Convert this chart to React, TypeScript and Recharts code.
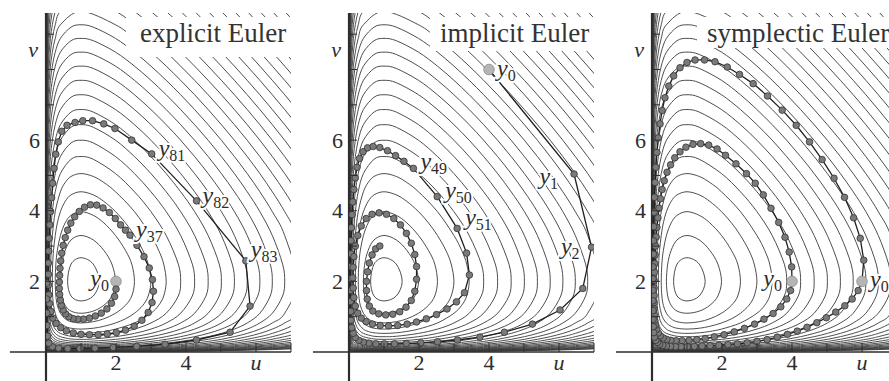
import React from 'react';
import { LineChart, Line, XAxis, YAxis, ReferenceLine, LabelList } from 'recharts';

// level curves of the invariant as [u, v]
const contours: number[][][] = [
  [[1.52,2],[1.35,2.49],[1,2.67],[0.716,2.49],[0.617,2],[0.716,1.585],[1,1.446],[1.35,1.585]],
  [[1.986,2],[1.882,2.49],[1.652,2.878],[1.35,3.174],[1,3.3],[0.716,3.174],[0.548,2.878],[0.449,2.49],[0.412,2],[0.449,1.585],[0.548,1.322],[0.716,1.158],[1,1.097],[1.35,1.158],[1.652,1.322],[1.882,1.585]],
  [[2.527,2],[2.45,2.49],[2.27,2.878],[1.986,3.3],[1.652,3.657],[1.35,3.87],[1,3.975],[0.716,3.87],[0.548,3.657],[0.412,3.3],[0.3245,2.878],[0.282,2.49],[0.264,2],[0.282,1.585],[0.3245,1.322],[0.412,1.097],[0.548,0.94],[0.716,0.858],[1,0.822],[1.35,0.858],[1.652,0.94],[1.986,1.097],[2.27,1.322],[2.45,1.585]],
  [[2.998,2],[2.92,2.49],[2.768,2.878],[2.527,3.3],[2.27,3.657],[1.986,3.975],[1.652,4.265],[1.35,4.45],[1,4.538],[0.716,4.45],[0.548,4.265],[0.412,3.975],[0.3245,3.657],[0.264,3.3],[0.2155,2.878],[0.19,2.49],[0.181,2],[0.19,1.585],[0.2155,1.322],[0.264,1.097],[0.3245,0.94],[0.412,0.822],[0.548,0.727],[0.716,0.673],[1,0.649],[1.35,0.673],[1.652,0.727],[1.986,0.822],[2.27,0.94],[2.527,1.097],[2.768,1.322],[2.92,1.585]],
  [[3.434,2],[3.363,2.49],[3.219,2.878],[2.998,3.3],[2.527,3.975],[1.986,4.538],[1.652,4.8],[1.35,4.972],[1,5.053],[0.716,4.972],[0.548,4.8],[0.412,4.538],[0.264,3.975],[0.181,3.3],[0.1495,2.878],[0.133,2.49],[0.126,2],[0.133,1.585],[0.1495,1.322],[0.181,1.097],[0.264,0.822],[0.412,0.649],[0.548,0.582],[0.716,0.543],[1,0.527],[1.35,0.543],[1.652,0.582],[1.986,0.649],[2.527,0.822],[2.998,1.097],[3.219,1.322],[3.363,1.585]],
  [[3.847,2],[3.78,2.49],[3.434,3.3],[2.998,3.975],[2.527,4.538],[1.986,5.053],[1.35,5.458],[1,5.535],[0.716,5.458],[0.412,5.053],[0.264,4.538],[0.181,3.975],[0.126,3.3],[0.095,2.49],[0.09,2],[0.095,1.585],[0.126,1.097],[0.181,0.822],[0.264,0.649],[0.412,0.527],[0.716,0.445],[1,0.434],[1.35,0.445],[1.986,0.527],[2.527,0.649],[2.998,0.822],[3.434,1.097],[3.78,1.585]],
  [[4.246,2],[4.18,2.49],[3.847,3.3],[3.434,3.975],[2.998,4.538],[2.527,5.053],[1.986,5.535],[1.35,5.92],[1,5.997],[0.716,5.92],[0.412,5.535],[0.264,5.053],[0.181,4.538],[0.126,3.975],[0.09,3.3],[0.068,2.49],[0.0655,2],[0.068,1.585],[0.09,1.097],[0.126,0.822],[0.181,0.649],[0.264,0.527],[0.412,0.434],[0.716,0.369],[1,0.358],[1.35,0.369],[1.986,0.434],[2.527,0.527],[2.998,0.649],[3.434,0.822],[3.847,1.097],[4.18,1.585]],
  [[4.633,2],[4.57,2.49],[4.246,3.3],[3.847,3.975],[3.434,4.538],[2.998,5.053],[2.527,5.535],[1.986,5.997],[1.35,6.365],[1,6.438],[0.716,6.365],[0.412,5.997],[0.264,5.535],[0.181,5.053],[0.126,4.538],[0.09,3.975],[0.0655,3.3],[0.0475,2],[0.0655,1.097],[0.09,0.822],[0.126,0.649],[0.181,0.527],[0.264,0.434],[0.412,0.358],[0.716,0.308],[1,0.2985],[1.35,0.308],[1.986,0.358],[2.527,0.434],[2.998,0.527],[3.434,0.649],[3.847,0.822],[4.246,1.097],[4.57,1.585]],
  [[5.011,2],[4.949,2.49],[4.633,3.3],[4.246,3.975],[3.847,4.538],[3.434,5.053],[2.998,5.535],[2.527,5.997],[1.986,6.438],[1.35,6.795],[1,6.866],[0.716,6.795],[0.412,6.438],[0.264,5.997],[0.181,5.535],[0.126,5.053],[0.09,4.538],[0.0655,3.975],[0.0475,3.3],[0.035,2],[0.0475,1.097],[0.0655,0.822],[0.09,0.649],[0.126,0.527],[0.181,0.434],[0.264,0.358],[0.412,0.2985],[0.716,0.259],[1,0.251],[1.35,0.259],[1.986,0.2985],[2.527,0.358],[2.998,0.434],[3.434,0.527],[3.847,0.649],[4.246,0.822],[4.633,1.097],[4.949,1.585]],
  [[5.383,2],[5.321,2.49],[5.011,3.3],[4.633,3.975],[4.246,4.538],[3.847,5.053],[3.434,5.535],[2.998,5.997],[2.527,6.438],[1.986,6.866],[1.35,7.215],[1,7.285],[0.716,7.215],[0.412,6.866],[0.264,6.438],[0.181,5.997],[0.126,5.535],[0.09,5.053],[0.0655,4.538],[0.0475,3.975],[0.035,3.3],[0.026,2],[0.035,1.097],[0.0475,0.822],[0.0655,0.649],[0.09,0.527],[0.126,0.434],[0.181,0.358],[0.264,0.2985],[0.412,0.251],[0.716,0.218],[1,0.212],[1.35,0.218],[1.986,0.251],[2.527,0.2985],[2.998,0.358],[3.434,0.434],[3.847,0.527],[4.246,0.649],[4.633,0.822],[5.011,1.097],[5.321,1.585]],
  [[5.749,2],[5.688,2.49],[5.383,3.3],[5.011,3.975],[4.633,4.538],[4.246,5.053],[3.847,5.535],[3.434,5.997],[2.998,6.438],[2.527,6.866],[1.986,7.285],[1.35,7.627],[1,7.694],[0.716,7.627],[0.412,7.285],[0.264,6.866],[0.181,6.438],[0.126,5.997],[0.09,5.535],[0.0655,5.053],[0.0475,4.538],[0.035,3.975],[0.026,3.3],[0.0187,2],[0.026,1.097],[0.035,0.822],[0.0475,0.649],[0.0655,0.527],[0.09,0.434],[0.126,0.358],[0.181,0.2985],[0.264,0.251],[0.412,0.212],[0.716,0.185],[1,0.18],[1.35,0.185],[1.986,0.212],[2.527,0.251],[2.998,0.2985],[3.434,0.358],[3.847,0.434],[4.246,0.527],[4.633,0.649],[5.011,0.822],[5.383,1.097],[5.688,1.585]],
  [[6.11,2],[6.05,2.49],[5.749,3.3],[5.383,3.975],[5.011,4.538],[4.633,5.053],[4.246,5.535],[3.847,5.997],[3.434,6.438],[2.998,6.866],[2.527,7.285],[1.986,7.694],[1.35,8.03],[1,8.096],[0.716,8.03],[0.412,7.694],[0.264,7.285],[0.181,6.866],[0.126,6.438],[0.09,5.997],[0.0655,5.535],[0.0475,5.053],[0.035,4.538],[0.026,3.975],[0.0187,3.3],[0.0138,2],[0.0187,1.097],[0.026,0.822],[0.035,0.649],[0.0475,0.527],[0.0655,0.434],[0.09,0.358],[0.126,0.2985],[0.181,0.251],[0.264,0.212],[0.412,0.18],[0.716,0.157],[1,0.1525],[1.35,0.157],[1.986,0.18],[2.527,0.212],[2.998,0.251],[3.434,0.2985],[3.847,0.358],[4.246,0.434],[4.633,0.527],[5.011,0.649],[5.383,0.822],[5.749,1.097],[6.05,1.585]],
  [[6.466,2],[6.407,2.49],[6.11,3.3],[5.749,3.975],[5.383,4.538],[5.011,5.053],[4.633,5.535],[4.246,5.997],[3.847,6.438],[3.434,6.866],[2.998,7.285],[2.527,7.694],[1.986,8.096],[1.35,8.426],[1,8.492],[0.716,8.426],[0.412,8.096],[0.264,7.694],[0.181,7.285],[0.126,6.866],[0.09,6.438],[0.0655,5.997],[0.035,5.053],[0.0187,3.975],[0.0102,2],[0.0138,1.097],[0.0187,0.822],[0.026,0.649],[0.035,0.527],[0.0475,0.434],[0.0655,0.358],[0.09,0.2985],[0.126,0.251],[0.181,0.212],[0.264,0.18],[0.412,0.1525],[0.716,0.133],[1,0.13],[1.35,0.133],[1.986,0.1525],[2.527,0.18],[2.998,0.212],[3.434,0.251],[3.847,0.2985],[4.246,0.358],[4.633,0.434],[5.011,0.527],[5.383,0.649],[5.749,0.822],[6.11,1.097],[6.407,1.585]],
  [[6.82,2],[6.76,2.49],[6.466,3.3],[6.11,3.975],[5.749,4.538],[5.383,5.053],[5.011,5.535],[4.633,5.997],[4.246,6.438],[3.847,6.866],[3.434,7.285],[2.998,7.694],[2.527,8.096],[1.986,8.492],[1.35,8.816],[1,8.881],[0.716,8.816],[0.412,8.492],[0.264,8.096],[0.181,7.694],[0.126,7.285],[0.09,6.866],[0.0655,6.438],[0.035,5.535],[0.0187,4.538],[0.0102,3.3],[0.0075,2],[0.0102,1.097],[0.0138,0.822],[0.0187,0.649],[0.026,0.527],[0.035,0.434],[0.0475,0.358],[0.0655,0.2985],[0.09,0.251],[0.126,0.212],[0.181,0.18],[0.264,0.1525],[0.412,0.13],[0.716,0.1135],[1,0.111],[1.35,0.1135],[1.986,0.13],[2.527,0.1525],[2.998,0.18],[3.434,0.212],[3.847,0.251],[4.246,0.2985],[4.633,0.358],[5.011,0.434],[5.383,0.527],[5.749,0.649],[6.11,0.822],[6.466,1.097],[6.76,1.585]],
  [[7.17,2],[6.82,3.3],[6.466,3.975],[6.11,4.538],[5.749,5.053],[5.383,5.535],[5.011,5.997],[4.633,6.438],[4.246,6.866],[3.847,7.285],[3.434,7.694],[2.998,8.096],[2.527,8.492],[1.986,8.881],[1.35,9.2],[1,9.266],[0.716,9.2],[0.412,8.881],[0.264,8.492],[0.181,8.096],[0.126,7.694],[0.09,7.285],[0.0655,6.866],[0.035,5.997],[0.0187,5.053],[0.0102,3.975],[0.0055,2],[0.0075,1.097],[0.0102,0.822],[0.0187,0.527],[0.035,0.358],[0.0655,0.251],[0.09,0.212],[0.126,0.18],[0.181,0.1525],[0.264,0.13],[0.412,0.111],[0.716,0.096],[1,0.094],[1.35,0.096],[1.986,0.111],[2.527,0.13],[2.998,0.1525],[3.434,0.18],[3.847,0.212],[4.246,0.251],[4.633,0.2985],[5.011,0.358],[5.383,0.434],[5.749,0.527],[6.11,0.649],[6.466,0.822],[6.82,1.097]],
  [[7.52,2],[7.17,3.3],[6.82,3.975],[6.466,4.538],[6.11,5.053],[5.749,5.535],[5.383,5.997],[5.011,6.438],[4.633,6.866],[4.246,7.285],[3.847,7.694],[3.434,8.096],[2.998,8.492],[2.527,8.881],[1.986,9.266],[1,9.647],[0.412,9.266],[0.264,8.881],[0.181,8.492],[0.126,8.096],[0.09,7.694],[0.0655,7.285],[0.035,6.438],[0.0187,5.535],[0.0102,4.538],[0.0041,2],[0.0055,1.097],[0.0102,0.649],[0.0187,0.434],[0.035,0.2985],[0.0655,0.212],[0.126,0.1525],[0.181,0.13],[0.264,0.111],[0.412,0.094],[1,0.081],[1.986,0.094],[2.527,0.111],[2.998,0.13],[3.434,0.1525],[3.847,0.18],[4.246,0.212],[4.633,0.251],[5.011,0.2985],[5.383,0.358],[5.749,0.434],[6.11,0.527],[6.466,0.649],[6.82,0.822],[7.17,1.097]],
  [[7.86,2],[7.52,3.3],[7.17,3.975],[6.82,4.538],[6.466,5.053],[6.11,5.535],[5.749,5.997],[5.383,6.438],[5.011,6.866],[4.633,7.285],[4.246,7.694],[3.847,8.096],[3.434,8.492],[2.998,8.881],[2.527,9.266],[1.986,9.647],[1,10.02],[0.412,9.647],[0.264,9.266],[0.181,8.881],[0.126,8.492],[0.09,8.096],[0.0655,7.694],[0.035,6.866],[0.0187,5.997],[0.0102,5.053],[0.003,2],[0.004,1.097],[0.0102,0.527],[0.0187,0.358],[0.035,0.251],[0.0655,0.18],[0.126,0.13],[0.264,0.094],[0.412,0.081],[1,0.069],[1.986,0.081],[2.998,0.111],[3.847,0.1525],[4.633,0.212],[5.383,0.2985],[6.11,0.434],[6.466,0.527],[6.82,0.649],[7.17,0.822],[7.52,1.097]],
  [[7.52,3.975],[7.17,4.538],[6.82,5.053],[6.466,5.535],[6.11,5.997],[5.749,6.438],[5.383,6.866],[5.011,7.285],[4.633,7.694],[4.246,8.096],[3.847,8.492],[3.434,8.881],[2.998,9.266],[2.527,9.647],[1.986,10.02],[1,10.39],[0.412,10.02],[0.264,9.647],[0.181,9.266],[0.126,8.881],[0.09,8.492],[0.0655,8.096],[0.035,7.285],[0.0187,6.438],[0.0102,5.535],[0.0055,4.538],[0.002,2],[0.003,1.097],[0.0055,0.649],[0.0102,0.434],[0.0187,0.2985],[0.035,0.212],[0.0655,0.1525],[0.126,0.111],[0.264,0.081],[0.412,0.069],[1,0.059],[1.986,0.069],[2.998,0.094],[3.847,0.13],[4.633,0.18],[5.383,0.251],[6.11,0.358],[6.466,0.434],[6.82,0.527],[7.17,0.649],[7.52,0.822]],
  [[7.52,4.538],[7.17,5.053],[6.82,5.535],[6.466,5.997],[6.11,6.438],[5.749,6.866],[5.383,7.285],[5.011,7.694],[4.633,8.096],[4.246,8.492],[3.847,8.881],[3.434,9.266],[2.998,9.647],[2.527,10.02],[1.986,10.39],[1,10.77],[0.412,10.39],[0.264,10.02],[0.181,9.647],[0.126,9.266],[0.09,8.881],[0.0655,8.492],[0.035,7.694],[0.0187,6.866],[0.0102,5.997],[0.0055,5.053],[0.0017,2],[0.002,1.097],[0.0055,0.527],[0.0102,0.358],[0.0187,0.251],[0.035,0.18],[0.0655,0.13],[0.126,0.094],[0.264,0.069],[0.412,0.059],[1,0.051],[1.986,0.059],[2.998,0.081],[3.847,0.111],[4.633,0.1525],[5.383,0.212],[6.11,0.2985],[6.82,0.434],[7.17,0.527],[7.52,0.649]],
  [[7.52,5.053],[7.17,5.535],[6.82,5.997],[6.466,6.438],[6.11,6.866],[5.749,7.285],[5.383,7.694],[5.011,8.096],[4.633,8.492],[4.246,8.881],[3.847,9.266],[3.434,9.647],[2.998,10.02],[2.527,10.39],[1.986,10.77],[1,11.13],[0.412,10.77],[0.264,10.39],[0.181,10.02],[0.126,9.647],[0.09,9.266],[0.0655,8.881],[0.035,8.096],[0.0187,7.285],[0.0102,6.438],[0.0055,5.535],[0.001,2],[0.0017,1.097],[0.0055,0.434],[0.0102,0.2985],[0.0187,0.212],[0.035,0.1525],[0.0655,0.111],[0.126,0.081],[0.264,0.059],[0.412,0.051],[1,0.0435],[1.986,0.051],[2.998,0.069],[3.847,0.094],[4.633,0.13],[5.383,0.18],[6.11,0.251],[6.82,0.358],[7.17,0.434],[7.52,0.527]],
  [[7.86,5.053],[7.52,5.535],[7.17,5.997],[6.82,6.438],[6.466,6.866],[6.11,7.285],[5.749,7.694],[5.383,8.096],[5.011,8.492],[4.633,8.881],[4.246,9.266],[3.847,9.647],[3.434,10.02],[2.527,10.77],[1,11.5],[0.412,11.13],[0.264,10.77],[0.181,10.39],[0.126,10.02],[0.09,9.647],[0.0655,9.266],[0.035,8.492],[0.0187,7.694],[0.0102,6.866],[0.0055,5.997],[0.001,2],[0.0012,1.097],[0.0055,0.358],[0.0102,0.251],[0.0187,0.18],[0.035,0.13],[0.0655,0.094],[0.126,0.069],[0.264,0.051],[1,0.037],[2.527,0.051],[3.434,0.069],[4.246,0.094],[5.011,0.13],[5.749,0.18],[6.466,0.251],[7.17,0.358],[7.86,0.527]],
  [[7.86,5.535],[7.52,5.997],[7.17,6.438],[6.82,6.866],[6.466,7.285],[6.11,7.694],[5.749,8.096],[5.383,8.492],[5.011,8.881],[4.633,9.266],[4.246,9.647],[3.847,10.02],[3.434,10.39],[2.527,11.13],[1,11.86],[0.412,11.5],[0.264,11.13],[0.181,10.77],[0.126,10.39],[0.09,10.02],[0.0655,9.647],[0.0475,9.266],[0.026,8.492],[0.0138,7.694],[0.0055,6.438],[0.001,2],[0.001,1.097],[0.0055,0.2985],[0.0102,0.212],[0.0187,0.1525],[0.035,0.111],[0.0655,0.081],[0.126,0.059],[0.264,0.0435],[1,0.032],[2.527,0.0435],[3.434,0.059],[4.246,0.081],[5.011,0.111],[5.749,0.1525],[6.466,0.212],[7.17,0.2985],[7.86,0.434]],
  [[7.86,5.997],[7.52,6.438],[7.17,6.866],[6.82,7.285],[6.466,7.694],[6.11,8.096],[5.749,8.492],[5.383,8.881],[5.011,9.266],[4.633,9.647],[4.246,10.02],[3.847,10.39],[2.998,11.13],[1,12.22],[0.412,11.86],[0.264,11.5],[0.181,11.13],[0.126,10.77],[0.09,10.39],[0.0655,10.02],[0.0475,9.647],[0.035,9.266],[0.0187,8.492],[0.0102,7.694],[0.004,6.438],[0.001,2],[0.001,1.097],[0.004,0.2985],[0.0102,0.18],[0.0187,0.13],[0.035,0.094],[0.0655,0.069],[0.126,0.051],[0.264,0.037],[1,0.028],[2.527,0.037],[3.434,0.051],[4.246,0.069],[5.011,0.094],[5.749,0.13],[6.466,0.18],[7.17,0.251],[7.86,0.358]],
  [[8.2,5.997],[7.86,6.438],[7.52,6.866],[7.17,7.285],[6.82,7.694],[6.466,8.096],[6.11,8.492],[5.749,8.881],[5.383,9.266],[5.011,9.647],[4.633,10.02],[4.246,10.39],[3.434,11.13],[1,12.58],[0.412,12.22],[0.264,11.86],[0.181,11.5],[0.126,11.13],[0.09,10.77],[0.0655,10.39],[0.0475,10.02],[0.035,9.647],[0.026,9.266],[0.0138,8.492],[0.0075,7.694],[0.003,6.438],[0.001,2],[0.001,1.097],[0.003,0.2985],[0.0075,0.18],[0.0187,0.111],[0.035,0.081],[0.0655,0.059],[0.126,0.0435],[0.264,0.032],[1,0.024],[2.527,0.032],[3.434,0.0435],[4.246,0.059],[5.011,0.081],[5.749,0.111],[6.466,0.1525],[7.17,0.212],[8.2,0.358]],
  [[8.2,6.438],[7.86,6.866],[7.52,7.285],[7.17,7.694],[6.82,8.096],[6.466,8.492],[6.11,8.881],[5.749,9.266],[5.383,9.647],[5.011,10.02],[4.633,10.39],[3.847,11.13],[1,12.93],[0.412,12.58],[0.264,12.22],[0.181,11.86],[0.126,11.5],[0.09,11.13],[0.0655,10.77],[0.0475,10.39],[0.035,10.02],[0.026,9.647],[0.0187,9.266],[0.0102,8.492],[0.0055,7.694],[0.002,6.438],[0.001,2],[0.001,1.097],[0.002,0.2985],[0.0055,0.18],[0.0138,0.111],[0.035,0.069],[0.0655,0.051],[0.126,0.037],[0.264,0.028],[1,0.02],[2.527,0.028],[3.434,0.037],[4.246,0.051],[5.011,0.069],[5.749,0.094],[6.466,0.13],[7.17,0.18],[8.2,0.2985]],
  [[8.55,6.438],[8.2,6.866],[7.86,7.285],[7.52,7.694],[7.17,8.096],[6.82,8.492],[6.466,8.881],[6.11,9.266],[5.749,9.647],[5.383,10.02],[5.011,10.39],[4.246,11.13],[1,13.29],[0.412,12.93],[0.264,12.58],[0.181,12.22],[0.126,11.86],[0.09,11.5],[0.0655,11.13],[0.0475,10.77],[0.035,10.39],[0.026,10.02],[0.0187,9.647],[0.0138,9.266],[0.0075,8.492],[0.004,7.694],[0.0017,6.438],[0.001,2],[0.001,1.097],[0.0017,0.2985],[0.004,0.18],[0.0102,0.111],[0.026,0.069],[0.0475,0.051],[0.09,0.037],[0.181,0.028],[1,0.0175],[2.998,0.028],[3.847,0.037],[4.633,0.051],[5.383,0.069],[6.11,0.094],[6.82,0.13],[7.52,0.18],[8.55,0.2985]],
  [[8.55,6.866],[8.2,7.285],[7.86,7.694],[7.52,8.096],[7.17,8.492],[6.82,8.881],[6.466,9.266],[6.11,9.647],[5.749,10.02],[5.383,10.39],[4.633,11.13],[1,13.64],[0.412,13.29],[0.264,12.93],[0.181,12.58],[0.126,12.22],[0.09,11.86],[0.0655,11.5],[0.0475,11.13],[0.035,10.77],[0.026,10.39],[0.0187,10.02],[0.0138,9.647],[0.0102,9.266],[0.0055,8.492],[0.003,7.694],[0.0012,6.438],[0.001,2],[0.001,1.097],[0.0012,0.2985],[0.003,0.18],[0.0075,0.111],[0.0187,0.069],[0.035,0.051],[0.0655,0.037],[0.126,0.028],[1,0.015],[3.434,0.028],[4.246,0.037],[5.011,0.051],[5.749,0.069],[6.466,0.094],[7.17,0.13],[7.86,0.18],[8.55,0.251]],
  [[8.88,6.866],[8.55,7.285],[8.2,7.694],[7.86,8.096],[7.52,8.492],[7.17,8.881],[6.82,9.266],[6.466,9.647],[6.11,10.02],[5.749,10.39],[5.011,11.13],[1,13.99],[0.412,13.64],[0.181,12.93],[0.09,12.22],[0.0475,11.5],[0.026,10.77],[0.0138,10.02],[0.0102,9.647],[0.0075,9.266],[0.004,8.492],[0.002,7.694],[0.001,6.438],[0.001,2],[0.001,1.097],[0.001,0.2985],[0.002,0.18],[0.0055,0.111],[0.0138,0.069],[0.026,0.051],[0.0475,0.037],[0.09,0.028],[1,0.013],[3.847,0.028],[4.633,0.037],[5.383,0.051],[6.11,0.069],[6.82,0.094],[7.52,0.13],[8.2,0.18],[8.88,0.251]],
  [[8.88,7.285],[8.55,7.694],[8.2,8.096],[7.86,8.492],[7.52,8.881],[7.17,9.266],[6.82,9.647],[6.466,10.02],[6.11,10.39],[5.383,11.13],[1,14.34],[0.412,13.99],[0.181,13.29],[0.09,12.58],[0.0475,11.86],[0.026,11.13],[0.0138,10.39],[0.0075,9.647],[0.0055,9.266],[0.003,8.492],[0.0017,7.694],[0.001,6.438],[0.001,2],[0.001,1.097],[0.001,0.2985],[0.0017,0.18],[0.0041,0.111],[0.0102,0.069],[0.0187,0.051],[0.035,0.037],[0.0655,0.028],[1,0.011],[4.246,0.028],[5.011,0.037],[5.749,0.051],[6.466,0.069],[7.17,0.094],[7.86,0.13],[8.88,0.212]],
];

// numerical solutions [u, v, index label]
const explicitPath: (number | string)[][] = [
  [2.0,2.0,'0'],[2.0,1.78],[1.96,1.57],[1.87,1.38],[1.74,1.22],[1.58,1.1],[1.41,1.02],[1.24,0.96],[1.07,0.93],[0.91,0.93],
  [0.77,0.95],[0.65,1.0],[0.56,1.08],[0.49,1.19],[0.44,1.32],[0.41,1.47],[0.39,1.63],[0.38,1.8],[0.38,1.98],[0.39,2.17],
  [0.4,2.37],[0.42,2.58],[0.45,2.8],[0.49,3.02],[0.55,3.24],[0.62,3.45],[0.71,3.65],[0.82,3.83],[0.95,3.98],[1.1,4.1],
  [1.27,4.17],[1.45,4.16],[1.63,4.08],[1.81,3.95],[1.98,3.78],[2.13,3.6],[2.27,3.45],[2.4,3.31,'37'],[2.6,3.02],[2.8,2.7],
  [2.95,2.38],[3.04,2.05],[3.07,1.72],[3.03,1.4],[2.92,1.12],[2.74,0.9],[2.52,0.73],[2.27,0.62],[2.01,0.55],[1.75,0.51],
  [1.49,0.49],[1.24,0.49],[1.0,0.5],[0.78,0.54],[0.58,0.6],[0.42,0.69],[0.29,0.81],[0.2,0.96],[0.14,1.15],[0.1,1.37],
  [0.08,1.62],[0.07,1.9],[0.07,2.2],[0.07,2.52],[0.08,2.86],[0.09,3.22],[0.11,3.6],[0.13,3.98],[0.16,4.37],[0.19,4.78],
  [0.23,5.2],[0.28,5.6],[0.35,5.95],[0.45,6.25],[0.6,6.42],[0.83,6.5],[1.05,6.55],[1.33,6.55],[1.65,6.46],[1.97,6.33],
  [2.45,6.0],[3.02,5.61,'81'],[4.3,4.28,'82'],[5.71,2.58,'83'],[5.83,1.3],[5.26,0.56],[4.3,0.34],[3.4,0.22],[2.59,0.16],[1.92,0.13],
  [1.4,0.11],[0.97,0.1],[0.62,0.1],[0.36,0.11],[0.18,0.15],[0.08,0.25],[0.04,0.45],[0.025,0.75],[0.02,1.1],[0.02,1.5],[0.02,1.95],
];

const implicitPath: (number | string)[][] = [
  [4.0,8.0,'0'],[6.43,5.04,'1'],[6.93,2.97,'2'],[6.68,1.8],[6.03,1.19],[5.24,0.79],[4.44,0.56],[3.74,0.42],[3.1,0.34],[2.53,0.29],
  [2.05,0.26],[1.64,0.24],[1.3,0.23],[1.01,0.23],[0.77,0.23],[0.57,0.25],[0.41,0.28],[0.28,0.33],[0.18,0.41],[0.12,0.53],
  [0.08,0.69],[0.06,0.9],[0.05,1.15],[0.04,1.43],[0.04,1.74],[0.04,2.07],[0.04,2.42],[0.05,2.78],[0.06,3.15],[0.07,3.52],
  [0.09,3.89],[0.11,4.25],[0.14,4.6],[0.18,4.93],[0.23,5.23],[0.3,5.48],[0.4,5.67],[0.53,5.78],[0.69,5.82],[0.88,5.79],
  [1.1,5.7],[1.33,5.56],[1.57,5.4],[1.84,5.2,'49'],[2.52,4.4,'50'],[3.09,3.5,'51'],[3.36,2.8],[3.44,2.18],[3.3,1.68],[3.07,1.42],
  [2.8,1.22],[2.5,1.06],[2.21,0.94],[1.93,0.85],[1.66,0.79],[1.39,0.75],[1.13,0.74],[0.89,0.75],[0.67,0.79],[0.49,0.86],
  [0.35,0.96],[0.25,1.1],[0.18,1.3],[0.14,1.54],[0.12,1.81],[0.11,2.1],[0.12,2.4],[0.14,2.7],[0.18,3.0],[0.25,3.3],
  [0.35,3.57],[0.49,3.78],[0.66,3.9],[0.86,3.94],[1.07,3.9],[1.28,3.78],[1.47,3.6],[1.64,3.36],[1.78,3.08],[1.88,2.76],
  [1.93,2.42],[1.93,2.06],[1.88,1.72],[1.78,1.46],[1.63,1.27],[1.45,1.14],[1.25,1.07],[1.05,1.05],[0.85,1.08],[0.68,1.16],
  [0.58,1.3],[0.52,1.5],[0.5,1.74],[0.5,2.0],[0.53,2.27],[0.58,2.52],[0.66,2.75],[0.76,2.92],[0.88,3.0],
];

const symplecticInner: (number | string)[][] = [
  [4.0,2.0,'0'],[3.96,1.74],[3.85,1.5],[3.68,1.28],[3.46,1.09],[3.2,0.93],[2.93,0.79],[2.64,0.67],[2.35,0.57],[2.06,0.49],
  [1.78,0.43],[1.52,0.38],[1.28,0.35],[1.06,0.33],[0.86,0.32],[0.69,0.32],[0.54,0.33],[0.42,0.36],[0.32,0.4],[0.24,0.46],
  [0.18,0.54],[0.13,0.64],[0.1,0.76],[0.08,0.9],[0.07,1.05],[0.06,1.22],[0.06,1.4],[0.06,1.6],[0.06,1.81],[0.06,2.03],
  [0.07,2.26],[0.08,2.5],[0.09,2.75],[0.1,3.0],[0.12,3.26],[0.14,3.53],[0.17,3.8],[0.2,4.07],[0.24,4.34],[0.29,4.6],
  [0.35,4.85],[0.43,5.09],[0.53,5.3],[0.65,5.5],[0.8,5.67],[0.97,5.8],[1.17,5.88],[1.39,5.9],[1.62,5.86],[1.86,5.75],
  [2.1,5.57],[2.4,5.33],[2.7,5.05],[2.95,4.78],[3.18,4.45],[3.4,4.07],[3.62,3.67],[3.8,3.25],[3.92,2.83],[3.99,2.41],
];

const symplecticOuter: (number | string)[][] = [
  [6.0,2.0,'0'],[5.89,1.74],[5.72,1.5],[5.51,1.31],[5.25,1.13],[4.98,0.97],[4.71,0.83],[4.43,0.7],[4.15,0.59],[3.87,0.5],
  [3.58,0.42],[3.29,0.35],[3.0,0.3],[2.72,0.26],[2.44,0.23],[2.17,0.21],[1.91,0.19],[1.66,0.18],[1.43,0.17],[1.21,0.16],
  [1.01,0.15],[0.83,0.15],[0.67,0.15],[0.53,0.16],[0.41,0.17],[0.31,0.19],[0.22,0.22],[0.16,0.27],[0.11,0.33],[0.07,0.42],
  [0.05,0.55],[0.04,0.72],[0.03,0.93],[0.03,1.17],[0.03,1.45],[0.03,1.75],[0.03,2.07],[0.03,2.41],[0.04,2.77],[0.04,3.15],
  [0.05,3.55],[0.06,3.96],[0.07,4.38],[0.09,4.8],[0.11,5.23],[0.14,5.65],[0.18,6.06],[0.23,6.46],[0.29,6.84],[0.37,7.2],
  [0.48,7.53],[0.62,7.82],[0.8,8.05],[1.0,8.2],[1.23,8.27],[1.5,8.27],[1.8,8.22],[2.15,8.07],[2.5,7.86],[2.89,7.6],
  [3.3,7.25],[3.72,6.85],[4.12,6.42],[4.5,5.95],[4.86,5.45],[5.2,4.92],[5.5,4.38],[5.76,3.8],[5.95,3.22],[6.05,2.6],
];

const xTicks = [1, 2, 3, 4, 5, 6, 7];
const xTickText: Record<number, string> = { 2: '2', 4: '4', 6: 'u' };
const yTicks = [1, 2, 3, 4, 5, 6, 7, 8, 8.5, 9];
const yTickText: Record<number, string> = { 2: '2', 4: '4', 6: '6', 8.5: 'v' };
const titles = ['explicit Euler', 'implicit Euler', 'symplectic Euler'];

// ---- styling ----
const serif = '"Liberation Serif", "DejaVu Serif", serif';
const ink = '#2d2d2d';

// label offsets [dx, dy, anchor] per series
const offExplicit: Record<string, [number, number, string]> = {
  '0': [-7, 5, 'end'], '37': [6, 2, 'start'], '81': [7, 2, 'start'], '82': [6, 2, 'start'], '83': [5, -4, 'start'],
};
const offImplicit: Record<string, [number, number, string]> = {
  '0': [8, 6, 'start'], '1': [-16, 10, 'end'], '2': [-12, 7, 'end'], '49': [7, 1, 'start'], '50': [8, 1, 'start'], '51': [8, -3, 'start'],
};
const offInner: Record<string, [number, number, string]> = { '0': [-10, 5, 'end'] };
const offOuter: Record<string, [number, number, string]> = { '0': [8, 6, 'start'] };

const toPts = (arr: (number | string)[][]) => arr.map((p) => ({ u: p[0], v: p[1], lab: p[2] }));
const contourData = contours.map((c) => c.map(([u, v]) => ({ u, v })));

// smooth closed curve through the level-curve points
const closedCurve = (context: any) => {
  let pts: number[][] = [];
  return {
    areaStart() {},
    areaEnd() {},
    lineStart() { pts = []; },
    point(x: number, y: number) { pts.push([+x, +y]); },
    lineEnd() {
      const n = pts.length;
      if (!n) return;
      context.moveTo(pts[0][0], pts[0][1]);
      if (n < 3) {
        for (let i = 1; i < n; i++) context.lineTo(pts[i][0], pts[i][1]);
        return;
      }
      const g = (i: number) => pts[(i + n) % n];
      for (let i = 0; i < n; i++) {
        const p0 = g(i - 1), p1 = g(i), p2 = g(i + 1), p3 = g(i + 2);
        context.bezierCurveTo(
          p1[0] + (p2[0] - p0[0]) / 6, p1[1] + (p2[1] - p0[1]) / 6,
          p2[0] - (p3[0] - p1[0]) / 6, p2[1] - (p3[1] - p1[1]) / 6,
          p2[0], p2[1]
        );
      }
      context.closePath();
    },
  };
};

const renderXTick = (props: any) => {
  const { x, y, payload } = props;
  const t = xTickText[payload.value];
  return (
    <g>
      <line x1={x} y1={y} x2={x} y2={y - 9} stroke={ink} strokeWidth={1} />
      {t && (
        <text x={x} y={y + 18} textAnchor="middle" fontFamily={serif} fontSize={22}
          fontStyle={/[a-z]/.test(t) ? 'italic' : 'normal'} fill={ink}>{t}</text>
      )}
    </g>
  );
};

const renderYTick = (props: any) => {
  const { x, y, payload } = props;
  const val = payload.value;
  const t = yTickText[val];
  const letter = t && /[a-z]/.test(t);
  return (
    <g>
      {Number.isInteger(val) && <line x1={x} y1={y} x2={x + 8} y2={y} stroke={ink} strokeWidth={1} />}
      {t && (
        <text x={x - (letter ? 8 : 6)} y={y + (letter ? 5 : 7.5)} textAnchor="end" fontFamily={serif}
          fontSize={22} fontStyle={letter ? 'italic' : 'normal'} fill={ink}>{t}</text>
      )}
    </g>
  );
};

const renderDot = (props: any) => {
  const { cx, cy, payload, index } = props;
  if (cx == null || cy == null) return <g key={`d${index}`} />;
  if (payload.lab === '0') {
    return <circle key={`d${index}`} cx={cx} cy={cy} r={5.3} fill="#b5b5b5" stroke="#8c8c8c" strokeWidth={0.8} />;
  }
  return <circle key={`d${index}`} cx={cx} cy={cy} r={3.3} fill="#7a7a7a" stroke="#333" strokeWidth={0.8} />;
};

const makeLabel = (offsets: Record<string, [number, number, string]>) => (props: any) => {
  const { value, index } = props;
  if (!value) return null;
  const x = props.x ?? props.viewBox?.x;
  const y = props.y ?? props.viewBox?.y;
  const [dx, dy, anchor] = offsets[value] || [6, 0, 'start'];
  return (
    <text key={`l${index}`} x={x + dx} y={y + dy} textAnchor={anchor as any} fontFamily={serif} fontSize={24}
      fontStyle="italic" fill={ink} stroke="#fff" strokeWidth={4} strokeLinejoin="round"
      style={{ paintOrder: 'stroke' }}>
      y<tspan fontStyle="normal" fontSize={16} dy={5}>{value}</tspan>
    </text>
  );
};

type Series = { data: (number | string)[][]; closed?: boolean; offsets: Record<string, [number, number, string]> };

const Panel = ({ left, series }: { left: number; series: Series[] }) => (
  <div style={{ position: 'absolute', left, top: 0 }}>
    <LineChart width={295} height={381} margin={{ top: 13, right: 4, bottom: 0, left: 6 }}>
      <XAxis type="number" dataKey="u" domain={[0, 7]} allowDataOverflow ticks={xTicks} interval={0}
        tick={renderXTick} tickLine={false} axisLine={false} tickSize={0} tickMargin={0} height={29} />
      <YAxis type="number" dataKey="v" domain={[0, 9.6]} allowDataOverflow ticks={yTicks} interval={0}
        tick={renderYTick} tickLine={false} axisLine={false} tickSize={0} tickMargin={0} width={40} />
      {contourData.map((c, i) => (
        <Line key={`c${i}`} data={c} dataKey="v" type={closedCurve as any} stroke="#3a3a3a" strokeWidth={0.9}
          dot={false} activeDot={false} isAnimationActive={false} />
      ))}
      <ReferenceLine segment={[{ x: -1.03, y: 0 }, { x: 7, y: 0 }]} stroke={ink} strokeWidth={1.4} ifOverflow="visible" />
      <ReferenceLine segment={[{ x: 0, y: -0.85 }, { x: 0, y: 9.6 }]} stroke={ink} strokeWidth={2.2} ifOverflow="visible" />
      {series.map((s, i) => (
        <Line key={`s${i}`} data={toPts(s.data)} dataKey="v" type={s.closed ? 'linearClosed' : 'linear'}
          stroke="#1f1f1f" strokeWidth={1.3} dot={renderDot} activeDot={false} isAnimationActive={false}>
          <LabelList dataKey="lab" content={makeLabel(s.offsets)} />
        </Line>
      ))}
    </LineChart>
  </div>
);

const titleBase: React.CSSProperties = {
  position: 'absolute', top: 17, background: '#fff', fontFamily: serif, fontSize: 27, color: '#333',
  lineHeight: '28px', paddingTop: 2, whiteSpace: 'nowrap', boxSizing: 'border-box',
};

export default function App() {
  return (
    <div style={{ position: 'fixed', left: 0, top: 0, width: 889, height: 381, overflow: 'hidden', background: '#fff' }}>
      <Panel left={0} series={[{ data: explicitPath, offsets: offExplicit }]} />
      <Panel left={303} series={[{ data: implicitPath, offsets: offImplicit }]} />
      <Panel left={606} series={[
        { data: symplecticInner, closed: true, offsets: offInner },
        { data: symplecticOuter, closed: true, offsets: offOuter },
      ]} />
      <div style={{ ...titleBase, left: 126, width: 168, height: 40, paddingLeft: 14 }}>{titles[0]}</div>
      <div style={{ ...titleBase, left: 430, width: 167, height: 34, paddingLeft: 10 }}>{titles[1]}</div>
      <div style={{ ...titleBase, left: 697, width: 192, height: 31, paddingLeft: 10 }}>{titles[2]}</div>
    </div>
  );
}
